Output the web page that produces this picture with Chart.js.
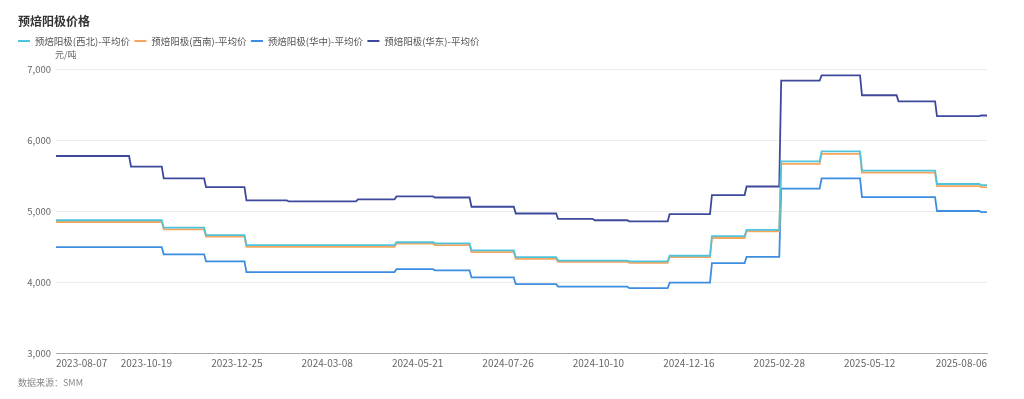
<!DOCTYPE html>
<html>
<head>
<meta charset="utf-8">
<script src="https://cdn.jsdelivr.net/npm/chart.js@4.4.1/dist/chart.umd.min.js"></script>
<style>
html,body{margin:0;padding:0;background:#fff;}
#wrap{position:relative;width:1024px;height:399px;}
</style>
</head>
<body>
<div id="wrap"><canvas id="c" width="1024" height="399"></canvas></div>
<script>
// ---- text ----
const chartTitle = '预焙阳极价格';
const unitLabel = '元/吨';
const sourceNote = '数据来源：SMM';
const seriesNames = ['预焙阳极(西北)-平均价', '预焙阳极(西南)-平均价', '预焙阳极(华中)-平均价', '预焙阳极(华东)-平均价'];
const seriesColors = ['#4fc3db', '#f5a55c', '#3d8de0', '#3d4a9c'];

// ---- categories: trading days ----
const startDate = '2023-08-07';
const endDate = '2025-08-06';
const holidays = ['2023-09-29','2023-10-02','2023-10-03','2023-10-04','2023-10-05','2023-10-06',
  '2024-01-01','2024-02-09','2024-02-12','2024-02-13','2024-02-14','2024-02-15','2024-02-16',
  '2024-04-04','2024-04-05','2024-05-01','2024-05-02','2024-05-03','2024-06-10','2024-09-16','2024-09-17',
  '2024-10-01','2024-10-02','2024-10-03','2024-10-04','2024-10-07',
  '2025-01-01','2025-01-28','2025-01-29','2025-01-30','2025-01-31','2025-02-03','2025-02-04',
  '2025-04-04','2025-05-01','2025-05-02','2025-05-05','2025-06-02'];

// ---- price changes (date of new price) ----
const stepDates = ['2023-08-07','2023-10-09','2023-11-01','2023-12-01','2024-01-02','2024-02-01','2024-04-01',
  '2024-05-06','2024-06-03','2024-07-01','2024-08-01','2024-09-02','2024-10-08','2024-11-01','2024-12-02',
  '2025-01-02','2025-02-05','2025-03-03','2025-04-01','2025-05-06','2025-06-03','2025-07-01','2025-08-01'];
const xibei    = [4870,4870,4765,4660,4520,4520,4520,4560,4545,4445,4350,4300,4300,4290,4370,4645,4735,5700,5840,5570,5570,5380,5365];
const xinan    = [4845,4845,4740,4640,4495,4495,4495,4540,4520,4420,4325,4285,4285,4270,4350,4620,4715,5665,5805,5540,5540,5350,5335];
const huazhong = [4490,4490,4390,4290,4140,4140,4140,4180,4165,4065,3970,3935,3935,3915,3990,4265,4355,5315,5460,5195,5195,5000,4985];
const huadong  = [5775,5625,5460,5335,5150,5135,5165,5205,5190,5060,4965,4890,4870,4855,4955,5225,5345,6835,6910,6630,6545,6335,6345];

// ---- axis ticks ----
const tickLabels = ['2023-08-07','2023-10-19','2023-12-25','2024-03-08','2024-05-21','2024-07-26',
  '2024-10-10','2024-12-16','2025-02-28','2025-05-12','2025-08-06'];
const yMin = 3000, yMax = 7000, yStep = 1000;

function tradingDays(s, e, hol) {
  const out = [];
  const d = new Date(s + 'T00:00:00Z');
  const end = new Date(e + 'T00:00:00Z');
  while (d <= end) {
    const wd = d.getUTCDay();
    const iso = d.toISOString().slice(0, 10);
    if (wd !== 0 && wd !== 6 && !hol.includes(iso)) out.push(iso);
    d.setUTCDate(d.getUTCDate() + 1);
  }
  return out;
}
const categories = tradingDays(startDate, endDate, holidays);

function stepPoints(vals) {
  const pts = [];
  stepDates.forEach((dt, i) => {
    const idx = categories.indexOf(dt);
    if (i > 0) pts.push({ x: categories[idx - 1], y: vals[i - 1] });
    pts.push({ x: dt, y: vals[i] });
  });
  pts.push({ x: categories[categories.length - 1], y: vals[vals.length - 1] });
  return pts;
}

const seriesValues = [xibei, xinan, huazhong, huadong];
const datasets = seriesValues.map((vals, i) => ({
  label: seriesNames[i],
  data: stepPoints(vals),
  borderColor: seriesColors[i],
  backgroundColor: seriesColors[i],
  borderWidth: 1.8,
  pointRadius: 0,
  tension: 0,
  fill: false
}));

const tickIdx = tickLabels.map(l => categories.indexOf(l));
const FONT = "'Noto Sans CJK SC', 'Noto Sans', sans-serif";

const legendGap = {
  id: 'legendGap',
  beforeInit(chart) {
    const fit = chart.legend.fit;
    chart.legend.fit = function () { fit.call(this); this.height += 13.25; };
  }
};
const texts = {
  id: 'texts',
  afterDraw(chart) {
    const ctx = chart.ctx;
    ctx.save();
    ctx.textAlign = 'left';
    ctx.textBaseline = 'middle';
    ctx.fillStyle = '#333';
    ctx.font = 'bold 12px ' + FONT;
    ctx.fillText(chartTitle, 18, 21);
    ctx.fillStyle = '#666';
    ctx.font = '9px ' + FONT;
    ctx.fillText(unitLabel, chart.chartArea.left - 1, 55);
    ctx.fillStyle = '#888';
    ctx.fillText(sourceNote, 18, 383);
    ctx.restore();
  }
};

new Chart(document.getElementById('c'), {
  type: 'line',
  data: { labels: categories, datasets },
  plugins: [legendGap, texts],
  options: {
    responsive: false,
    animation: false,
    layout: { padding: { left: 13.5, right: 37, top: 31.75, bottom: 26 } },
    plugins: {
      title: { display: false },
      tooltip: { enabled: false },
      legend: {
        position: 'top',
        align: 'start',
        labels: {
          usePointStyle: true,
          pointStyle: 'line',
          pointStyleWidth: 12,
          padding: 4.5,
          color: '#555',
          font: { family: FONT, size: 9.5 }
        }
      }
    },
    scales: {
      x: {
        type: 'category',
        grid: { display: false, drawTicks: false },
        border: { display: true, color: '#aaaaaa', width: 1 },
        afterBuildTicks: (axis) => { axis.ticks = tickIdx.map(v => ({ value: v })); },
        ticks: {
          autoSkip: false,
          maxRotation: 0,
          minRotation: 0,
          align: 'inner',
          padding: 4,
          color: '#666',
          font: { family: FONT, size: 10 }
        }
      },
      y: {
        min: yMin,
        max: yMax,
        afterFit: (s) => { s.width = 42.5; },
        grid: { color: '#ececec', drawTicks: false },
        border: { display: false },
        ticks: {
          stepSize: yStep,
          padding: 5,
          color: '#666',
          font: { family: FONT, size: 9.5 },
          callback: (v) => v.toLocaleString('en-US')
        }
      }
    }
  }
});
</script>
</body>
</html>
